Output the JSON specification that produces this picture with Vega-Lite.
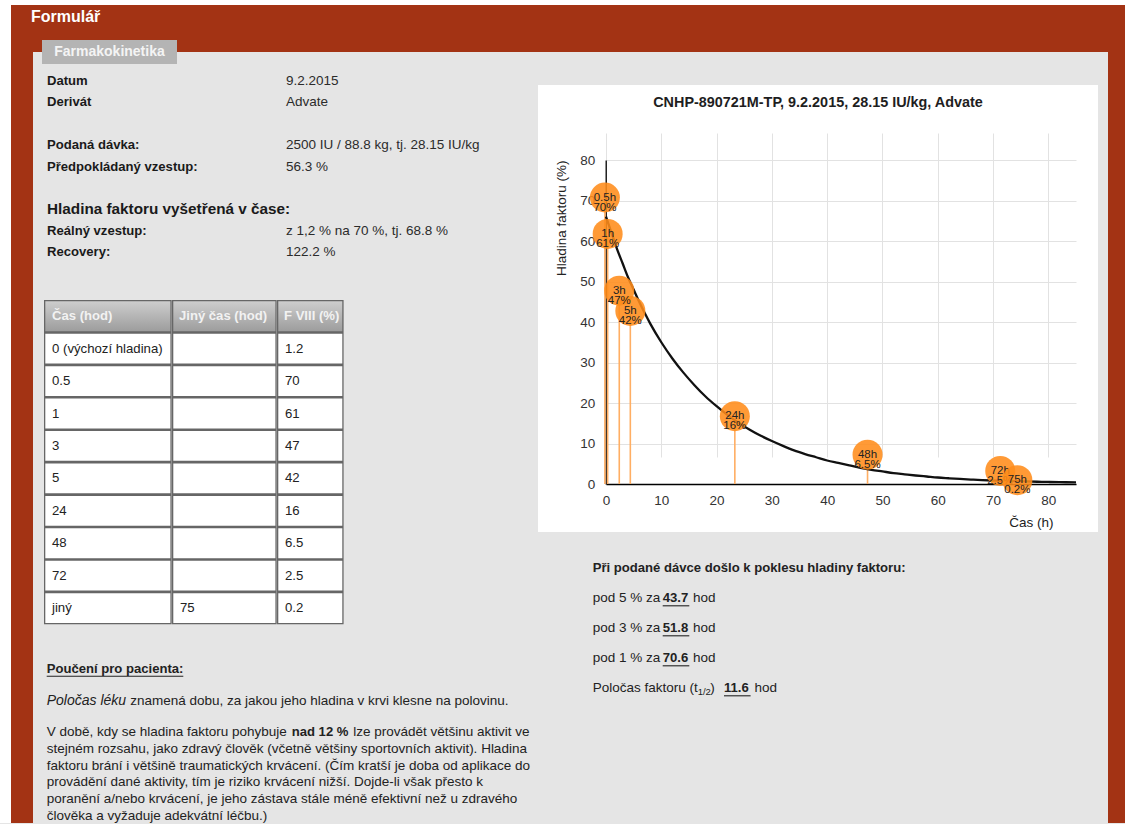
{
  "$schema": "https://vega.github.io/schema/vega-lite/v6.json",
  "background": "#e5e5e5",
  "padding": 0,
  "spacing": 0,
  "config": {
    "font": "Liberation Sans",
    "view": {"stroke": null},
    "concat": {"spacing": 0},
    "text": {"align": "left", "baseline": "middle", "fontSize": 13.5, "color": "#222222"}
  },
  "datasets": {
    "points": [
      {"t": -0.2, "v": 70, "label": "0.5h\n70%"},
      {"t": 0.3, "v": 61, "label": "1h\n61%"},
      {"t": 2.4, "v": 47, "label": "3h\n47%"},
      {"t": 4.4, "v": 42, "label": "5h\n42%"},
      {"t": 23.3, "v": 16, "label": "24h\n16%"},
      {"t": 47.3, "v": 6.5, "label": "48h\n6.5%"},
      {"t": 71.3, "v": 2.5, "label": "72h\n2.5%"},
      {"t": 74.4, "v": 0.2, "label": "75h\n0.2%"}
    ],
    "curve": [
      {"t": 0, "v": 66}, {"t": 1, "v": 62}, {"t": 2, "v": 58}, {"t": 3, "v": 54.5}, {"t": 4, "v": 51},
      {"t": 5, "v": 48}, {"t": 6, "v": 45}, {"t": 7, "v": 42.2}, {"t": 8, "v": 39.6}, {"t": 10, "v": 35},
      {"t": 12, "v": 31}, {"t": 14, "v": 27.5}, {"t": 16, "v": 24.4}, {"t": 18, "v": 21.6}, {"t": 20, "v": 19.2},
      {"t": 22, "v": 17}, {"t": 24, "v": 15.1}, {"t": 26, "v": 13.4}, {"t": 28, "v": 11.9}, {"t": 30, "v": 10.6},
      {"t": 32, "v": 9.4}, {"t": 34, "v": 8.3}, {"t": 36, "v": 7.4}, {"t": 38, "v": 6.6}, {"t": 40, "v": 5.8},
      {"t": 42, "v": 5.2}, {"t": 44, "v": 4.6}, {"t": 46, "v": 4.0}, {"t": 48, "v": 3.5}, {"t": 50, "v": 3.1},
      {"t": 52, "v": 2.7}, {"t": 54, "v": 2.4}, {"t": 56, "v": 2.1}, {"t": 58, "v": 1.85}, {"t": 60, "v": 1.6},
      {"t": 62, "v": 1.42}, {"t": 64, "v": 1.25}, {"t": 66, "v": 1.1}, {"t": 68, "v": 0.97}, {"t": 70, "v": 0.87},
      {"t": 72, "v": 0.78}, {"t": 74, "v": 0.7}, {"t": 76, "v": 0.63}, {"t": 78, "v": 0.56}, {"t": 80, "v": 0.5},
      {"t": 82, "v": 0.45}, {"t": 85, "v": 0.4}
    ],
    "table": [
      {"row": 0, "cas": "Čas (hod)", "jiny": "Jiný čas (hod)", "f8": "F VIII (%)"},
      {"row": 1, "cas": "0 (výchozí hladina)", "jiny": "", "f8": "1.2"},
      {"row": 2, "cas": "0.5", "jiny": "", "f8": "70"},
      {"row": 3, "cas": "1", "jiny": "", "f8": "61"},
      {"row": 4, "cas": "3", "jiny": "", "f8": "47"},
      {"row": 5, "cas": "5", "jiny": "", "f8": "42"},
      {"row": 6, "cas": "24", "jiny": "", "f8": "16"},
      {"row": 7, "cas": "48", "jiny": "", "f8": "6.5"},
      {"row": 8, "cas": "72", "jiny": "", "f8": "2.5"},
      {"row": 9, "cas": "jiný", "jiny": "75", "f8": "0.2"}
    ],
    "info": [
      {"line": 1, "col": "label", "kind": "label", "text": "Datum"},
      {"line": 1, "col": "value", "kind": "value", "text": "9.2.2015"},
      {"line": 2, "col": "label", "kind": "label", "text": "Derivát"},
      {"line": 2, "col": "value", "kind": "value", "text": "Advate"},
      {"line": 4, "col": "label", "kind": "label", "text": "Podaná dávka:"},
      {"line": 4, "col": "value", "kind": "value", "text": "2500 IU / 88.8 kg, tj. 28.15 IU/kg"},
      {"line": 5, "col": "label", "kind": "label", "text": "Předpokládaný vzestup:"},
      {"line": 5, "col": "value", "kind": "value", "text": "56.3 %"},
      {"line": 7, "col": "label", "kind": "section", "text": "Hladina faktoru vyšetřená v čase:"},
      {"line": 8, "col": "label", "kind": "label", "text": "Reálný vzestup:"},
      {"line": 8, "col": "value", "kind": "value", "text": "z 1,2 % na 70 %, tj. 68.8 %"},
      {"line": 9, "col": "label", "kind": "label", "text": "Recovery:"},
      {"line": 9, "col": "value", "kind": "value", "text": "122.2 %"}
    ],
    "note": [
      {"block": "a", "line": 1, "part": "heading", "text": "Poučení pro pacienta:"},
      {"block": "a", "line": 2, "part": "term", "text": "Poločas léku"},
      {"block": "a", "line": 2, "part": "rest", "text": "znamená dobu, za jakou jeho hladina v krvi klesne na polovinu."},
      {"block": "b", "line": 1, "part": "pre", "text": "V době, kdy se hladina faktoru pohybuje"},
      {"block": "b", "line": 1, "part": "emph", "text": "nad 12 %"},
      {"block": "b", "line": 1, "part": "rest", "text": "lze provádět většinu aktivit ve"},
      {"block": "b", "line": 2, "part": "pre", "text": "stejném rozsahu, jako zdravý člověk (včetně většiny sportovních aktivit). Hladina"},
      {"block": "b", "line": 3, "part": "pre", "text": "faktoru brání i většině traumatických krvácení. (Čím kratší je doba od aplikace do"},
      {"block": "b", "line": 4, "part": "pre", "text": "provádění dané aktivity, tím je riziko krvácení nižší. Dojde-li však přesto k"},
      {"block": "b", "line": 5, "part": "pre", "text": "poranění a/nebo krvácení, je jeho zástava stále méně efektivní než u zdravého"},
      {"block": "b", "line": 6, "part": "pre", "text": "člověka a vyžaduje adekvátní léčbu.)"}
    ],
    "right": [
      {"line": 1, "part": "heading", "text": "Při podané dávce došlo k poklesu hladiny faktoru:"},
      {"line": 2, "part": "pre", "text": "pod 5 % za"},
      {"line": 2, "part": "value", "text": "43.7"},
      {"line": 2, "part": "unit", "text": "hod"},
      {"line": 3, "part": "pre", "text": "pod 3 % za"},
      {"line": 3, "part": "value", "text": "51.8"},
      {"line": 3, "part": "unit", "text": "hod"},
      {"line": 4, "part": "pre", "text": "pod 1 % za"},
      {"line": 4, "part": "value", "text": "70.6"},
      {"line": 4, "part": "unit", "text": "hod"},
      {"line": 5, "part": "pre", "text": "Poločas faktoru (t"},
      {"line": 5, "part": "sub", "text": "1/2"},
      {"line": 5, "part": "close", "text": ")"},
      {"line": 5, "part": "value", "text": "11.6"},
      {"line": 5, "part": "unit", "text": "hod"}
    ]
  },
  "vconcat": [
    {"width": 1125, "height": 5, "view": {"fill": "#ffffff"}, "data": {"values": []}, "mark": "point"},
    {
      "hconcat": [
        {"width": 11, "height": 818, "view": {"fill": "#ffffff"}, "data": {"values": []}, "mark": "point"},
        {
          "vconcat": [
            {
              "width": 1114, "height": 35,
              "view": {"fill": "#a33314"},
              "data": {"values": [{"text": "Formulář"}]},
              "mark": {"type": "text", "fontSize": 16, "fontWeight": "bold", "color": "#ffffff"},
              "encoding": {
                "x": {"datum": 0, "type": "quantitative", "scale": {"domain": [0, 1], "range": [20, 1114]}, "axis": null},
                "y": {"datum": 0, "type": "quantitative", "scale": {"domain": [0, 1], "range": [12, 35]}, "axis": null},
                "text": {"field": "text"}
              }
            },
            {
              "hconcat": [
                {"width": 22, "height": 24, "view": {"fill": "#a33314"}, "data": {"values": []}, "mark": "point"},
                {
                  "vconcat": [
                    {"width": 9, "height": 12, "view": {"fill": "#a33314"}, "data": {"values": []}, "mark": "point"},
                    {"width": 9, "height": 12, "data": {"values": []}, "mark": "point"}
                  ]
                },
                {
                  "width": 135, "height": 24,
                  "view": {"fill": "#b4b4b4"},
                  "data": {"values": [{"text": "Farmakokinetika"}]},
                  "mark": {"type": "text", "align": "center", "fontSize": 14, "fontWeight": "bold", "color": "#f4f4f4"},
                  "encoding": {"text": {"field": "text"}}
                },
                {
                  "vconcat": [
                    {"width": 931, "height": 12, "view": {"fill": "#a33314"}, "data": {"values": []}, "mark": "point"},
                    {"width": 931, "height": 12, "data": {"values": []}, "mark": "point"}
                  ]
                },
                {"width": 17, "height": 24, "view": {"fill": "#a33314"}, "data": {"values": []}, "mark": "point"}
              ]
            },
            {
              "hconcat": [
                {"width": 22, "height": 759, "view": {"fill": "#a33314"}, "data": {"values": []}, "mark": "point"},
                {
                  "hconcat": [
                    {
                      "vconcat": [
                        {
                          "width": 505, "height": 236,
                          "data": {"name": "info"},
                          "encoding": {
                            "x": {"field": "col", "type": "nominal", "scale": {"type": "point", "padding": 0, "domain": ["label", "value"], "range": [14, 253]}, "axis": null},
                            "y": {"field": "line", "type": "ordinal", "scale": {"type": "point", "padding": 0, "domain": [1, 2, 3, 4, 5, 6, 7, 8, 9], "range": [17, 188]}, "axis": null},
                            "text": {"field": "text"}
                          },
                          "layer": [
                            {"transform": [{"filter": "datum.kind == 'label'"}], "mark": {"type": "text", "fontWeight": "bold", "fontSize": 13.1, "color": "#1a1a1a"}},
                            {"transform": [{"filter": "datum.kind == 'value'"}], "mark": {"type": "text", "fontSize": 13.5, "color": "#2b2b2b"}},
                            {"transform": [{"filter": "datum.kind == 'section'"}], "mark": {"type": "text", "fontWeight": "bold", "fontSize": 15.3, "color": "#1a1a1a"}}
                          ]
                        },
                        {
                          "hconcat": [
                            {"width": 10.3, "height": 324.3, "data": {"values": []}, "mark": "point"},
                            {
                              "width": 127.7, "height": 324.3,
                              "view": {"fill": "#666666"},
                              "data": {"name": "table"},
                              "encoding": {
                                "y": {"field": "row", "type": "ordinal", "scale": {"type": "band", "domain": [0, 1, 2, 3, 4, 5, 6, 7, 8, 9], "paddingInner": 0.08, "paddingOuter": 0.04}, "axis": null},
                                "x": {"datum": 0, "type": "quantitative", "scale": {"domain": [0, 1]}, "axis": null}
                              },
                              "layer": [
                                {"transform": [{"filter": "datum.row > 0"}], "mark": {"type": "rect", "fill": "#ffffff", "xOffset": 1.3, "x2Offset": -1.3}, "encoding": {"x2": {"datum": 1}}},
                                {"transform": [{"filter": "datum.row == 0"}], "mark": {"type": "rect", "fill": {"gradient": "linear", "x1": 0, "y1": 0, "x2": 0, "y2": 1, "stops": [{"offset": 0, "color": "#cdcdcd"}, {"offset": 1, "color": "#9d9d9d"}]}, "xOffset": 1.3, "x2Offset": -1.3}, "encoding": {"x2": {"datum": 1}}},
                                {"transform": [{"filter": "datum.row > 0"}], "mark": {"type": "text", "dx": 8, "fontSize": 13.2, "color": "#222222"}, "encoding": {"text": {"field": "cas"}}},
                                {"transform": [{"filter": "datum.row == 0"}], "mark": {"type": "text", "dx": 8, "fontSize": 13.1, "fontWeight": "bold", "color": "#f2f2f2"}, "encoding": {"text": {"field": "cas"}}}
                              ]
                            },
                            {
                              "width": 104.7, "height": 324.3,
                              "view": {"fill": "#666666"},
                              "data": {"name": "table"},
                              "encoding": {
                                "y": {"field": "row", "type": "ordinal", "scale": {"type": "band", "domain": [0, 1, 2, 3, 4, 5, 6, 7, 8, 9], "paddingInner": 0.08, "paddingOuter": 0.04}, "axis": null},
                                "x": {"datum": 0, "type": "quantitative", "scale": {"domain": [0, 1]}, "axis": null}
                              },
                              "layer": [
                                {"transform": [{"filter": "datum.row > 0"}], "mark": {"type": "rect", "fill": "#ffffff", "xOffset": 1.3, "x2Offset": -1.3}, "encoding": {"x2": {"datum": 1}}},
                                {"transform": [{"filter": "datum.row == 0"}], "mark": {"type": "rect", "fill": {"gradient": "linear", "x1": 0, "y1": 0, "x2": 0, "y2": 1, "stops": [{"offset": 0, "color": "#cdcdcd"}, {"offset": 1, "color": "#9d9d9d"}]}, "xOffset": 1.3, "x2Offset": -1.3}, "encoding": {"x2": {"datum": 1}}},
                                {"transform": [{"filter": "datum.row > 0"}], "mark": {"type": "text", "dx": 8, "fontSize": 13.2, "color": "#222222"}, "encoding": {"text": {"field": "jiny"}}},
                                {"transform": [{"filter": "datum.row == 0"}], "mark": {"type": "text", "dx": 7, "fontSize": 13.1, "fontWeight": "bold", "color": "#f2f2f2"}, "encoding": {"text": {"field": "jiny"}}}
                              ]
                            },
                            {
                              "width": 66.6, "height": 324.3,
                              "view": {"fill": "#666666"},
                              "data": {"name": "table"},
                              "encoding": {
                                "y": {"field": "row", "type": "ordinal", "scale": {"type": "band", "domain": [0, 1, 2, 3, 4, 5, 6, 7, 8, 9], "paddingInner": 0.08, "paddingOuter": 0.04}, "axis": null},
                                "x": {"datum": 0, "type": "quantitative", "scale": {"domain": [0, 1]}, "axis": null}
                              },
                              "layer": [
                                {"transform": [{"filter": "datum.row > 0"}], "mark": {"type": "rect", "fill": "#ffffff", "xOffset": 1.3, "x2Offset": -1.3}, "encoding": {"x2": {"datum": 1}}},
                                {"transform": [{"filter": "datum.row == 0"}], "mark": {"type": "rect", "fill": {"gradient": "linear", "x1": 0, "y1": 0, "x2": 0, "y2": 1, "stops": [{"offset": 0, "color": "#cdcdcd"}, {"offset": 1, "color": "#9d9d9d"}]}, "xOffset": 1.3, "x2Offset": -1.3}, "encoding": {"x2": {"datum": 1}}},
                                {"transform": [{"filter": "datum.row > 0"}], "mark": {"type": "text", "dx": 8, "fontSize": 13.2, "color": "#222222"}, "encoding": {"text": {"field": "f8"}}},
                                {"transform": [{"filter": "datum.row == 0"}], "mark": {"type": "text", "dx": 7, "fontSize": 13.1, "fontWeight": "bold", "color": "#f2f2f2"}, "encoding": {"text": {"field": "f8"}}}
                              ]
                            }
                          ]
                        },
                        {
                          "width": 505, "height": 91.7,
                          "data": {"name": "note"},
                          "transform": [{"filter": "datum.block == 'a'"}],
                          "encoding": {
                            "x": {"datum": 0, "type": "quantitative", "scale": {"domain": [0, 1], "range": [13.7, 505]}, "axis": null},
                            "y": {"field": "line", "type": "ordinal", "scale": {"type": "point", "padding": 0, "domain": [1, 2], "range": [43.7, 75.7]}, "axis": null}
                          },
                          "layer": [
                            {"transform": [{"filter": "datum.part == 'heading'"}], "mark": {"type": "text", "fontWeight": "bold", "fontSize": 13.1}, "encoding": {"text": {"field": "text"}}},
                            {"transform": [{"filter": "datum.part == 'heading'"}], "mark": {"type": "rule", "x2Offset": 136.6, "yOffset": 7.5, "color": "#222222", "strokeWidth": 1.1}, "encoding": {"x2": {"datum": 0}}},
                            {"transform": [{"filter": "datum.part == 'term'"}], "mark": {"type": "text", "fontStyle": "italic", "fontSize": 14}, "encoding": {"text": {"field": "text"}}},
                            {"transform": [{"filter": "datum.part == 'rest'"}], "mark": {"type": "text", "dx": 83.5}, "encoding": {"text": {"field": "text"}}}
                          ]
                        },
                        {
                          "width": 505, "height": 107,
                          "data": {"name": "note"},
                          "transform": [{"filter": "datum.block == 'b'"}],
                          "encoding": {
                            "x": {"datum": 0, "type": "quantitative", "scale": {"domain": [0, 1], "range": [13.7, 505]}, "axis": null},
                            "y": {"field": "line", "type": "ordinal", "scale": {"type": "point", "padding": 0, "domain": [1, 2, 3, 4, 5, 6], "range": [15, 99]}, "axis": null},
                            "text": {"field": "text"}
                          },
                          "layer": [
                            {"transform": [{"filter": "datum.part == 'pre'"}], "mark": {"type": "text"}},
                            {"transform": [{"filter": "datum.part == 'emph'"}], "mark": {"type": "text", "dx": 245, "fontWeight": "bold", "fontSize": 13.1}},
                            {"transform": [{"filter": "datum.part == 'rest'"}], "mark": {"type": "text", "dx": 306.5}}
                          ]
                        }
                      ]
                    },
                    {
                      "vconcat": [
                        {"width": 570, "height": 21, "data": {"values": []}, "mark": "point"},
                        {
                          "width": 560, "height": 447,
                          "view": {"fill": "#ffffff"},
                          "title": {"text": "CNHP-890721M-TP, 9.2.2015, 28.15 IU/kg, Advate", "fontSize": 14.4, "fontWeight": "bold", "color": "#1e1e1e", "anchor": "middle", "baseline": "middle", "offset": -32.3},
                          "encoding": {
                            "x": {
                              "field": "t", "type": "quantitative",
                              "scale": {"domain": [0, 85], "range": [68, 538], "nice": false, "zero": false},
                              "axis": {
                                "values": [0, 10, 20, 30, 40, 50, 60, 70, 80], "offset": -48,
                                "grid": true, "gridColor": "#e2e2e2", "gridWidth": 1,
                                "domainColor": "#000000", "domainWidth": 1.6, "ticks": false,
                                "labelPadding": 9, "labelFontSize": 13.5, "labelColor": "#333333", "labelFlush": false,
                                "title": "Čas (h)", "titleFontSize": 13.5, "titleFontWeight": "normal", "titleColor": "#222222",
                                "titleAlign": "right", "titleBaseline": "middle", "titleX": 515, "titleY": 38
                              }
                            },
                            "y": {
                              "field": "v", "type": "quantitative",
                              "scale": {"domain": [0, 80], "range": [399, 75], "nice": false},
                              "axis": {
                                "values": [0, 10, 20, 30, 40, 50, 60, 70, 80], "offset": -67.7,
                                "grid": true, "gridColor": "#e2e2e2", "gridWidth": 1,
                                "domainColor": "#000000", "domainWidth": 1.3, "ticks": false,
                                "labelPadding": 11, "labelFontSize": 13.5, "labelColor": "#333333",
                                "title": "Hladina faktoru (%)", "titleFontSize": 13.5, "titleFontWeight": "normal", "titleColor": "#222222",
                                "titleAngle": 270, "titleAlign": "right", "titleBaseline": "middle", "titleX": -44, "titleY": 75
                              }
                            }
                          },
                          "layer": [
                            {"data": {"name": "points"}, "mark": {"type": "rule", "color": "#ffae63", "strokeWidth": 1.6}, "encoding": {"y2": {"datum": 0}}},
                            {"data": {"name": "curve"}, "mark": {"type": "line", "color": "#111111", "strokeWidth": 2.3, "interpolate": "monotone"}},
                            {"data": {"name": "points"}, "transform": [{"filter": "datum.t < 74"}], "mark": {"type": "circle", "size": 900, "color": "#ff8c1a", "opacity": 0.88, "yOffset": -3}},
                            {"data": {"name": "points"}, "transform": [{"filter": "datum.t < 74"}], "mark": {"type": "text", "align": "center", "baseline": "middle", "fontSize": 11.5, "lineHeight": 10, "lineBreak": "\n", "color": "#222222", "yOffset": -3}, "encoding": {"text": {"field": "label"}}},
                            {"data": {"name": "points"}, "transform": [{"filter": "datum.t >= 74"}], "mark": {"type": "circle", "size": 900, "color": "#ff8c1a", "opacity": 0.88, "yOffset": -3}},
                            {"data": {"name": "points"}, "transform": [{"filter": "datum.t >= 74"}], "mark": {"type": "text", "align": "center", "baseline": "middle", "fontSize": 11.5, "lineHeight": 10, "lineBreak": "\n", "color": "#222222", "yOffset": -3}, "encoding": {"text": {"field": "label"}}}
                          ]
                        },
                        {
                          "width": 570, "height": 291,
                          "data": {"name": "right"},
                          "encoding": {
                            "x": {"datum": 0, "type": "quantitative", "scale": {"domain": [0, 1], "range": [54.7, 570]}, "axis": null},
                            "y": {"field": "line", "type": "ordinal", "scale": {"type": "point", "padding": 0, "domain": [1, 2, 3, 4, 5], "range": [36.3, 156.3]}, "axis": null}
                          },
                          "layer": [
                            {"transform": [{"filter": "datum.part == 'heading'"}], "mark": {"type": "text", "fontWeight": "bold", "fontSize": 13.1}, "encoding": {"text": {"field": "text"}}},
                            {"transform": [{"filter": "datum.part == 'pre'"}], "mark": {"type": "text"}, "encoding": {"text": {"field": "text"}}},
                            {"transform": [{"filter": "datum.part == 'value' && datum.line < 5"}], "mark": {"type": "text", "dx": 70, "fontWeight": "bold", "fontSize": 13.1}, "encoding": {"text": {"field": "text"}}},
                            {"transform": [{"filter": "datum.part == 'unit' && datum.line < 5"}], "mark": {"type": "text", "dx": 100.3}, "encoding": {"text": {"field": "text"}}},
                            {"transform": [{"filter": "datum.part == 'value' && datum.line < 5"}], "mark": {"type": "rule", "xOffset": 70, "x2Offset": 96.6, "yOffset": 7.5, "color": "#222222", "strokeWidth": 1.1}, "encoding": {"x2": {"datum": 0}}},
                            {"transform": [{"filter": "datum.part == 'sub'"}], "mark": {"type": "text", "dx": 105, "dy": 3.5, "fontSize": 9.5}, "encoding": {"text": {"field": "text"}}},
                            {"transform": [{"filter": "datum.part == 'close'"}], "mark": {"type": "text", "dx": 117.5}, "encoding": {"text": {"field": "text"}}},
                            {"transform": [{"filter": "datum.part == 'value' && datum.line == 5"}], "mark": {"type": "text", "dx": 131.3, "fontWeight": "bold", "fontSize": 13.1}, "encoding": {"text": {"field": "text"}}},
                            {"transform": [{"filter": "datum.part == 'unit' && datum.line == 5"}], "mark": {"type": "text", "dx": 161.7}, "encoding": {"text": {"field": "text"}}},
                            {"transform": [{"filter": "datum.part == 'value' && datum.line == 5"}], "mark": {"type": "rule", "xOffset": 131.3, "x2Offset": 157.9, "yOffset": 7.5, "color": "#222222", "strokeWidth": 1.1}, "encoding": {"x2": {"datum": 0}}}
                          ]
                        }
                      ]
                    }
                  ]
                },
                {"width": 17, "height": 759, "view": {"fill": "#a33314"}, "data": {"values": []}, "mark": "point"}
              ]
            }
          ]
        }
      ]
    }
  ]
}
